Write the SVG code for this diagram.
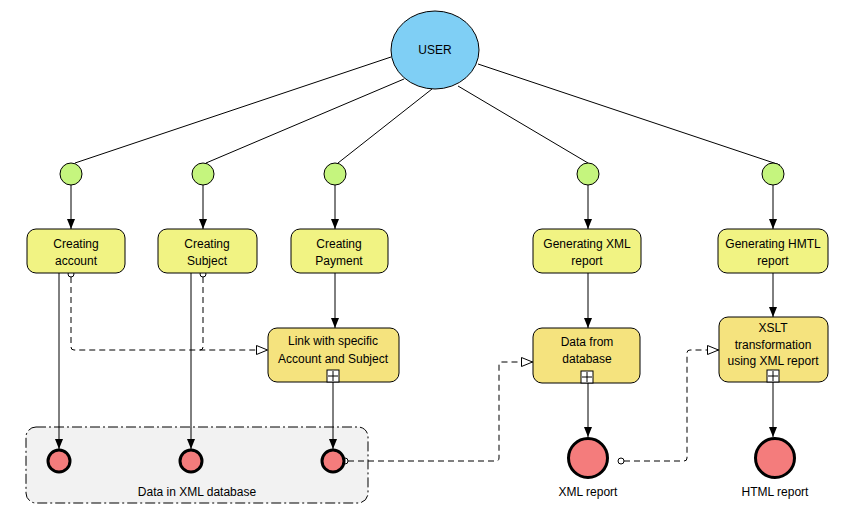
<svg xmlns="http://www.w3.org/2000/svg" width="856" height="528" viewBox="0 0 856 528">
  <style>
    text { font-family: "Liberation Sans", Arial, sans-serif; font-size: 12px; fill: #000; text-anchor: middle; }
    .task { fill: #f1f383; stroke: #000; stroke-width: 1; }
    .sub { fill: #f5e37e; stroke: #000; stroke-width: 1; }
    .start { fill: #c5f57e; stroke: #000; stroke-width: 1; }
    .end { fill: #f47c7c; stroke: #000; stroke-width: 3; }
    .plus { fill: #fff; stroke: #000; stroke-width: 1; }
    .flow { fill: none; stroke: #000; stroke-width: 1; }
    .seq { fill: none; stroke: #000; stroke-width: 1; marker-end: url(#solid); }
    .dash { fill: none; stroke: #000; stroke-width: 1; stroke-dasharray: 6 4; }
    .assoc { marker-end: url(#open); }
    .dot { fill: #fff; stroke: #000; stroke-width: 1; }
  </style>
  <defs>
    <marker id="solid" viewBox="0 0 10 10" refX="10" refY="5" markerWidth="10" markerHeight="10" markerUnits="userSpaceOnUse" orient="auto">
      <path d="M0,1 L10,5 L0,9 Z" fill="#000"/>
    </marker>
    <marker id="open" viewBox="0 0 12 10" refX="12" refY="5" markerWidth="12" markerHeight="10" markerUnits="userSpaceOnUse" orient="auto">
      <path d="M0.5,0.5 L11.5,5 L0.5,9.5 Z" fill="#fff" stroke="#000" stroke-width="1"/>
    </marker>
  </defs>

  <!-- group container -->
  <g id="group-xml-db">
    <rect x="26" y="427" width="342" height="76" rx="10" ry="10" fill="#f2f2f2" stroke="#000" stroke-width="1" stroke-dasharray="10 3 2 3"/>
    <text x="197" y="496">Data in XML database</text>
  </g>

  <!-- connectors -->
  <g id="connectors">
    <line class="flow" x1="391" y1="57" x2="75" y2="163"/>
    <line class="flow" x1="404" y1="79" x2="206" y2="163"/>
    <line class="flow" x1="432" y1="89" x2="338" y2="163"/>
    <line class="flow" x1="458" y1="86" x2="588" y2="163"/>
    <line class="flow" x1="478" y1="64" x2="780" y2="165"/>

    <line class="seq" x1="71" y1="185" x2="71" y2="229"/>
    <line class="seq" x1="203" y1="185" x2="203" y2="229"/>
    <line class="seq" x1="335" y1="185" x2="335" y2="229"/>
    <line class="seq" x1="588" y1="185" x2="588" y2="229"/>
    <line class="seq" x1="773" y1="185" x2="773" y2="229"/>

    <line class="seq" x1="59" y1="273" x2="59" y2="449"/>
    <line class="seq" x1="191" y1="273" x2="191" y2="449"/>
    <line class="seq" x1="335" y1="273" x2="335" y2="328"/>
    <line class="seq" x1="333" y1="382" x2="333" y2="449"/>
    <line class="seq" x1="588" y1="273" x2="588" y2="328"/>
    <line class="seq" x1="588" y1="383" x2="588" y2="437"/>
    <line class="seq" x1="773" y1="273" x2="773" y2="317"/>
    <line class="seq" x1="773" y1="382" x2="773" y2="437"/>

    <path class="dash assoc" d="M71,277 L71,347 Q71,350 74,350 L268,350"/>
    <path class="dash" d="M203,277 L203,347 Q203,350 200,350"/>
    <path class="dash assoc" d="M348,461 L496,461 Q499,461 499,458 L499,365 Q499,362 502,362 L533,362"/>
    <path class="dash assoc" d="M624,461 L684,461 Q687,461 687,458 L687,353 Q687,350 690,350 L719,350"/>
    <circle class="dot" cx="71" cy="274" r="3"/>
    <circle class="dot" cx="203" cy="274" r="3"/>
    <circle class="dot" cx="345" cy="461" r="3"/>
    <circle class="dot" cx="621" cy="461" r="3"/>
  </g>

  <!-- user -->
  <g id="user">
    <ellipse cx="435" cy="50" rx="44" ry="39" fill="#7fcff5" stroke="#000" stroke-width="1"/>
    <text x="435" y="54">USER</text>
  </g>

  <!-- start events -->
  <g id="start-1"><circle class="start" cx="71" cy="174" r="11"/></g>
  <g id="start-2"><circle class="start" cx="203" cy="174" r="11"/></g>
  <g id="start-3"><circle class="start" cx="335" cy="174" r="11"/></g>
  <g id="start-4"><circle class="start" cx="588" cy="174" r="11"/></g>
  <g id="start-5"><circle class="start" cx="773" cy="174" r="11"/></g>

  <!-- tasks -->
  <g id="creating-account">
    <rect class="task" x="27" y="229" width="98" height="44" rx="9" ry="9"/>
    <text x="76" y="248">Creating</text>
    <text x="76" y="265">account</text>
  </g>
  <g id="creating-subject">
    <rect class="task" x="158" y="229" width="99" height="44" rx="9" ry="9"/>
    <text x="207" y="248">Creating</text>
    <text x="207" y="265">Subject</text>
  </g>
  <g id="creating-payment">
    <rect class="task" x="291" y="229" width="97" height="44" rx="9" ry="9"/>
    <text x="339" y="248">Creating</text>
    <text x="339" y="265">Payment</text>
  </g>
  <g id="generating-xml">
    <rect class="task" x="533" y="229" width="108" height="44" rx="9" ry="9"/>
    <text x="587" y="248">Generating XML</text>
    <text x="587" y="265">report</text>
  </g>
  <g id="generating-html">
    <rect class="task" x="718" y="229" width="110" height="44" rx="9" ry="9"/>
    <text x="773" y="248">Generating HMTL</text>
    <text x="773" y="265">report</text>
  </g>

  <!-- sub-processes -->
  <g id="link-account-subject">
    <rect class="sub" x="268" y="328" width="131" height="54" rx="9" ry="9"/>
    <text x="333" y="345">Link with specific</text>
    <text x="333" y="363">Account and Subject</text>
    <rect class="plus" x="327" y="370" width="12" height="12"/>
    <path class="flow" d="M333,371 V381 M328,376 H338"/>
  </g>
  <g id="data-from-database">
    <rect class="sub" x="533" y="328" width="107" height="55" rx="9" ry="9"/>
    <text x="587" y="346">Data from</text>
    <text x="587" y="363">database</text>
    <rect class="plus" x="581" y="371" width="12" height="12"/>
    <path class="flow" d="M587,372 V382 M582,377 H592"/>
  </g>
  <g id="xslt-transformation">
    <rect class="sub" x="719" y="317" width="109" height="65" rx="9" ry="9"/>
    <text x="773" y="332">XSLT</text>
    <text x="773" y="349">transformation</text>
    <text x="773" y="365">using XML report</text>
    <rect class="plus" x="767" y="370" width="12" height="12"/>
    <path class="flow" d="M773,371 V381 M768,376 H778"/>
  </g>

  <!-- end events -->
  <g id="end-1"><circle class="end" cx="59" cy="461" r="11"/></g>
  <g id="end-2"><circle class="end" cx="191" cy="461" r="11"/></g>
  <g id="end-3"><circle class="end" cx="333" cy="461" r="11"/></g>
  <g id="xml-report">
    <circle class="end" cx="588" cy="458" r="19.5"/>
    <text x="588" y="496">XML report</text>
  </g>
  <g id="html-report">
    <circle class="end" cx="775" cy="458" r="19.5"/>
    <text x="775" y="496">HTML report</text>
  </g>
</svg>
